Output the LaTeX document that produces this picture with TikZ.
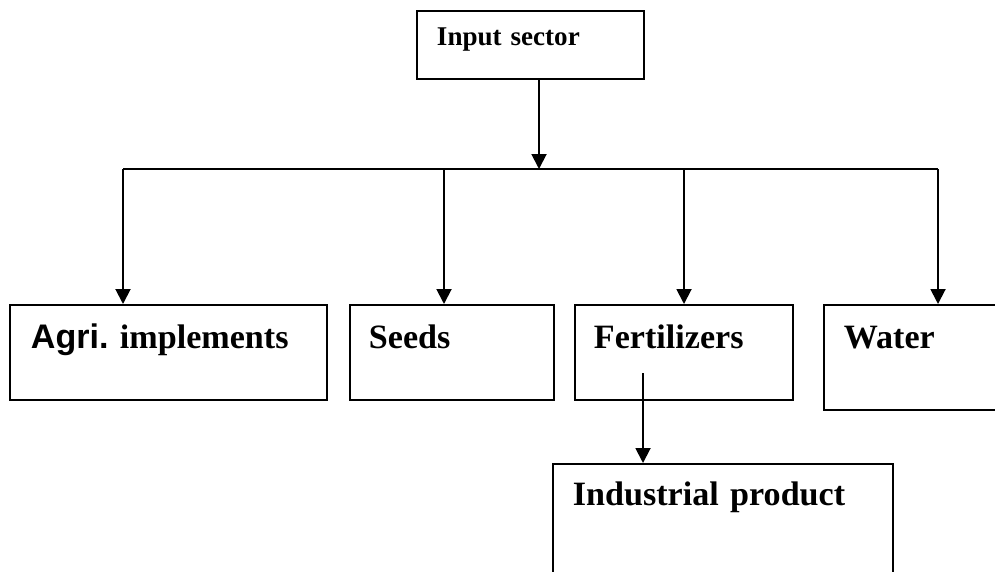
\documentclass[tikz,border=0pt]{standalone}
\usepackage{fontspec}
\setmainfont{Liberation Serif}
\newfontfamily\arialfont{Liberation Sans}
\usetikzlibrary{arrows.meta}

\begin{document}
\begin{tikzpicture}[>={Triangle[length=0.3cm,width=0.3cm]},line width=1.1pt,
    sectorbox/.style={draw,anchor=north west,inner ysep=0pt,align=left,
        font=\fontsize{19.4pt}{22pt}\selectfont\bfseries}]
                \useasboundingbox (0,0) rectangle (19.9,11.42);
                \clip (0,0) rectangle (19.9,11.42);
                % boxes
                \node[sectorbox,font=\fontsize{15.4pt}{18pt}\selectfont\bfseries,inner xsep=0.4cm,text width=3.74cm,text height=0.70cm,text depth=0.66cm] (input) at (8.32,11.22) {Input sector};
                \node[sectorbox,inner xsep=0.42cm,text width=5.50cm,text height=0.88cm,text depth=1.02cm] (agri) at (0.18,5.34) {{\arialfont Agri.}\ implements};
                \node[sectorbox,inner xsep=0.38cm,text width=3.32cm,text height=0.88cm,text depth=1.02cm] (seeds) at (6.98,5.34) {Seeds};
                \node[sectorbox,inner xsep=0.38cm,text width=3.60cm,text height=0.88cm,text depth=1.02cm] (fert) at (11.48,5.34) {Fertilizers};
                \node[sectorbox,inner xsep=0.40cm,text width=2.94cm,text height=0.88cm,text depth=1.22cm] (water) at (16.46,5.34) {Water};
                \node[sectorbox,inner xsep=0.40cm,text width=6.00cm,text height=0.84cm,text depth=1.90cm] (indus) at (11.04,2.16) {Industrial product};
                % branch points
                \coordinate (hub) at (10.78,8.04);
                \coordinate (bagri) at (2.46,8.04);
                \coordinate (bseeds) at (8.88,8.04);
                \coordinate (bfert) at (13.68,8.04);
                \coordinate (bwater) at (18.76,8.04);
                \coordinate (fstem) at (12.86,3.96);
                % connectors
                \draw[->] (hub |- input.south) -- (hub);
                \draw (bagri) -- (bwater);
                \draw[->] (bagri) -- (bagri |- agri.north);
                \draw[->] (bseeds) -- (bseeds |- seeds.north);
                \draw[->] (bfert) -- (bfert |- fert.north);
                \draw[->] (bwater) -- (bwater |- water.north);
                \draw[->] (fstem) -- (fstem |- indus.north);
\end{tikzpicture}
\end{document}
